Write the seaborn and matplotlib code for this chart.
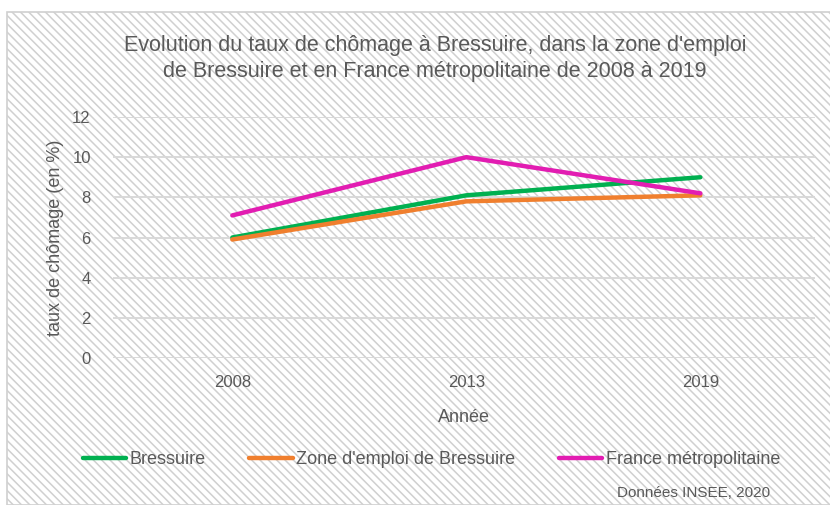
import pandas as pd
import matplotlib.pyplot as plt
import seaborn as sns
from matplotlib.patches import Rectangle

# Données
annees = ["2008", "2013", "2019"]
bressuire = [6.0, 8.1, 9.0]
zone_emploi = [5.9, 7.8, 8.1]
france = [7.1, 10.0, 8.2]
series = ["Bressuire", "Zone d'emploi de Bressuire", "France métropolitaine"]
couleurs = ["#00B050", "#F07F2E", "#E21DB2"]

df = pd.DataFrame({
    "Année": annees * 3,
    "taux": bressuire + zone_emploi + france,
    "serie": [s for s in series for _ in annees],
})

sns.set_theme(style="white")
plt.rcParams['font.family'] = ['Liberation Sans', 'DejaVu Sans']
plt.rcParams['hatch.color'] = '#E0E0E0'
plt.rcParams['hatch.linewidth'] = 1.1
gris = "#595959"

fig = plt.figure(figsize=(8.3, 5.05), dpi=100)
fig.patch.set_facecolor("white")
# fond hachuré + cadre
fig.patches.append(Rectangle((7 / 830, 0), 1, 1 - 12 / 505, transform=fig.transFigure,
                             facecolor="white", edgecolor="#D0D0D0", hatch="\\\\\\\\",
                             linewidth=1.2, zorder=-5))

ax = fig.add_axes([113 / 830, 1 - 358 / 505, (815 - 113) / 830, (358 - 117) / 505])
ax.patch.set_alpha(0)

sns.lineplot(data=df, x="Année", y="taux", hue="serie", palette=couleurs,
             linewidth=3.2, ax=ax, legend=False, sort=False)

ax.set_ylim(0, 12)
ax.set_xlim(-0.51, 2.49)
ax.set_yticks(range(0, 13, 2))
ax.yaxis.grid(True, color="#D9D9D9", linewidth=1.4)
ax.set_axisbelow(True)
for s in ax.spines.values():
    s.set_visible(False)
ax.tick_params(axis="both", length=0, labelsize=12, labelcolor=gris)
ax.tick_params(axis="y", pad=16)
ax.tick_params(axis="x", pad=12)
ax.set_xlabel("Année", fontsize=13, color=gris, labelpad=14)
ax.set_ylabel("taux de chômage (en %)", fontsize=13, color=gris, labelpad=6)

fig.text(0.524, 1 - 45 / 505, "Evolution du taux de chômage à Bressuire, dans la zone d'emploi",
         ha="center", va="center", fontsize=15.5, color=gris)
fig.text(0.524, 1 - 72 / 505, "de Bressuire et en France métropolitaine de 2008 à 2019",
         ha="center", va="center", fontsize=15.5, color=gris)

handles = [plt.Line2D([0], [0], color=c, linewidth=3.2) for c in couleurs]
fig.legend(handles, series, loc="center", bbox_to_anchor=(0.52, 1 - 460 / 505),
           ncol=3, frameon=False, fontsize=13, labelcolor=gris, handlelength=2.4,
           handletextpad=0.2, columnspacing=2.4)

fig.text(770 / 830, 1 - 493 / 505, "Données INSEE, 2020", ha="right", va="center",
         fontsize=11, color=gris)

fig.savefig("out.png", dpi=100)
